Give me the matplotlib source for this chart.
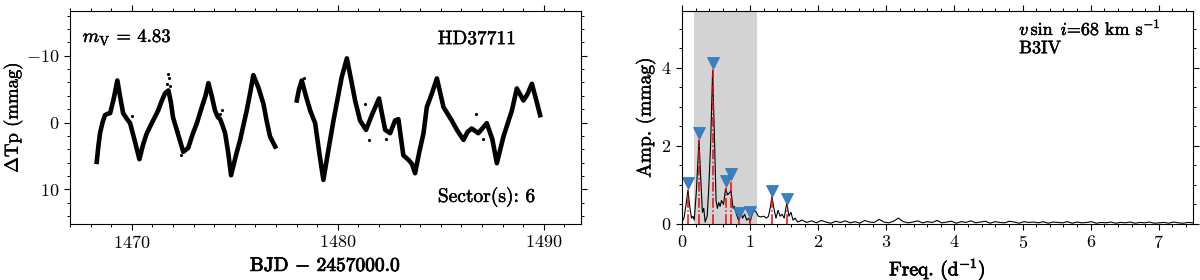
import numpy as np
import matplotlib
matplotlib.use("Agg")
import matplotlib.pyplot as plt
import matplotlib.patheffects as pe
from matplotlib.ticker import MultipleLocator

plt.rcParams['font.family'] = 'serif'
plt.rcParams['font.serif'] = ['cmr10']
plt.rcParams['mathtext.fontset'] = 'cm'
plt.rcParams['axes.formatter.use_mathtext'] = True
plt.rcParams['axes.unicode_minus'] = True

# light curve, two orbits of sector 6
t1 = [1468.30, 1468.38, 1468.46, 1468.58, 1468.70, 1468.82, 1468.95, 1469.12, 1469.30,
      1469.45, 1469.58, 1469.75, 1469.92, 1470.15, 1470.37, 1470.55,
      1470.73, 1470.97, 1471.28, 1471.45, 1471.62, 1471.78, 1471.90, 1472.00,
      1472.25, 1472.50, 1472.74, 1472.95, 1473.16, 1473.40, 1473.58, 1473.72,
      1473.88, 1474.04, 1474.18, 1474.29, 1474.40, 1474.53, 1474.68, 1474.82,
      1475.05, 1475.26, 1475.42, 1475.58, 1475.75, 1475.90, 1476.15, 1476.39,
      1476.55, 1476.71, 1476.96]
m1 = [5.9, 3.5, 1.6, 0.0, -1.1, -1.3, -1.4, -3.5, -6.3,
      -3.6, -1.4, -0.6, 0.1, 2.8, 5.5, 3.3,
      1.6, 0.1, -1.8, -3.2, -4.4, -4.8, -3.0, -0.8,
      1.8, 4.4, 3.8, 1.8, 0.1, -2.3, -4.0, -5.9,
      -4.0, -1.8, -0.8, -0.5, 0.4, 1.6, 4.5, 7.9,
      5.0, 2.6, 0.4, -1.8, -4.5, -7.1, -5.2, -2.8,
      -0.2, 2.1, 3.6]
t2 = [1478.01, 1478.12, 1478.25, 1478.45, 1478.66, 1478.90, 1479.10, 1479.30,
      1479.55, 1479.79, 1480.19, 1480.44, 1480.64,
      1480.84, 1481.08, 1481.37, 1481.65, 1482.00, 1482.15, 1482.30, 1482.54, 1482.78,
      1482.94, 1483.18, 1483.43, 1483.60, 1483.75, 1483.95, 1484.16, 1484.32,
      1484.55, 1484.81, 1485.13, 1485.53, 1485.80, 1486.10, 1486.30, 1486.50,
      1486.82, 1487.23, 1487.50, 1487.72, 1488.04, 1488.45, 1488.69, 1489.01,
      1489.20, 1489.42, 1489.62, 1489.82]
m2 = [-3.3, -5.0, -6.3, -4.0, -1.8, 0.1, 4.5, 8.6,
      4.0, -0.3, -6.8, -9.6, -6.5,
      -3.3, -0.3, 1.1, -1.1, -3.6, -1.2, 1.1, 1.6, -0.3,
      -0.5, 4.9, 5.6, 6.2, 7.6, 4.5, 1.6, -2.3,
      -4.2, -6.6, -2.3, -0.3, 1.2, 2.6, 1.4, 0.9,
      1.6, 0.1, 2.5, 6.1, 2.1, -1.8, -5.1, -3.3,
      -4.2, -5.8, -3.5, -1.1]
# stray points
t_out = [1471.78, 1471.82, 1471.72, 1471.86, 1472.25, 1472.40, 1470.00, 1474.30, 1474.40,
         1474.60, 1478.35, 1481.30, 1481.50, 1482.35, 1486.70, 1487.05]
m_out = [-7.3, -6.6, -5.8, -5.4, 1.4, 4.8, -1.0, -1.2, -1.9,
         4.4, -6.7, -2.8, 2.6, 2.4, -1.2, 2.4]

# amplitude spectrum
f_low = [0.00, 0.03, 0.06, 0.088, 0.11, 0.14, 0.16, 0.18, 0.21, 0.25, 0.28, 0.30,
         0.32, 0.34, 0.37, 0.39, 0.42, 0.45, 0.48, 0.50, 0.52, 0.54, 0.56, 0.58,
         0.61, 0.64, 0.67, 0.70, 0.72, 0.75, 0.77, 0.80, 0.83, 0.86, 0.89, 0.92,
         0.95, 0.98, 1.00, 1.03, 1.06, 1.09, 1.12, 1.16, 1.20, 1.24, 1.27, 1.30,
         1.32, 1.35, 1.38, 1.41, 1.44, 1.47, 1.50, 1.54, 1.57, 1.60, 1.63, 1.66,
         1.70]
a_low = [0.05, 0.15, 0.50, 0.87, 0.50, 0.15, 0.20, 0.10, 0.80, 2.15, 1.00, 0.30,
         0.40, 0.05, 0.20, 0.80, 2.00, 3.94, 2.00, 0.60, 0.40, 0.55, 0.45, 0.60,
         0.50, 0.90, 0.75, 0.80, 0.85, 0.40, 0.45, 0.25, 0.10, 0.30, 0.15, 0.25,
         0.10, 0.15, 0.05, 0.25, 0.35, 0.30, 0.20, 0.18, 0.20, 0.15, 0.20, 0.45,
         0.70, 0.40, 0.15, 0.35, 0.20, 0.25, 0.15, 0.55, 0.20, 0.30, 0.10, 0.15,
         0.05]
a_tail = [0.10, 0.04, 0.08, 0.03, 0.09, 0.05, 0.02, 0.07, 0.04, 0.08, 0.03, 0.06,
          0.02, 0.09, 0.05, 0.04, 0.12, 0.05, 0.03, 0.07, 0.15, 0.06, 0.03, 0.05,
          0.08, 0.03, 0.06, 0.04, 0.09, 0.03, 0.05, 0.07, 0.02, 0.06, 0.04, 0.08,
          0.03, 0.05, 0.07, 0.02, 0.06, 0.04, 0.03, 0.07, 0.05, 0.02, 0.06, 0.04,
          0.05, 0.03, 0.06, 0.02, 0.05, 0.04, 0.03, 0.06, 0.02, 0.05, 0.03, 0.04,
          0.06, 0.02, 0.04, 0.03, 0.05, 0.02, 0.04, 0.03, 0.05, 0.02, 0.04, 0.03,
          0.05, 0.02, 0.03, 0.04, 0.02, 0.05, 0.03, 0.02, 0.04, 0.03]
f_tail = np.linspace(1.76, 7.5, len(a_tail))

# extracted peaks
f_peak = [0.088, 0.25, 0.45, 0.64, 0.72, 0.83, 1.00, 1.32, 1.54]
a_peak = [0.87, 2.15, 3.94, 0.92, 1.10, 0.12, 0.14, 0.68, 0.46]

heavy = [pe.withStroke(linewidth=0.6, foreground='black')]
medium = [pe.withStroke(linewidth=0.35, foreground='black')]

fig = plt.figure(figsize=(12, 2.8), dpi=100)
ax1 = fig.add_axes([0.0583, 0.2, 0.4258, 0.7607])
ax2 = fig.add_axes([0.5683, 0.2, 0.4258, 0.7607])

# left: light curve
ax1.plot(t1, m1, 'k-', lw=3.3, solid_joinstyle='round')
ax1.plot(t2, m2, 'k-', lw=3.3, solid_joinstyle='round')
ax1.plot(t_out, m_out, 'k.', ms=2.5)
ax1.set_xlim(1467.0, 1491.8)
ax1.set_ylim(15.2, -16.7)
ax1.xaxis.set_major_locator(MultipleLocator(10))
ax1.xaxis.set_minor_locator(MultipleLocator(1))
ax1.yaxis.set_major_locator(MultipleLocator(10))
ax1.yaxis.set_minor_locator(MultipleLocator(2))
ax1.set_xlabel(r'BJD $-$ 2457000.0', fontsize=14, path_effects=heavy)
ax1.set_ylabel(r'$\Delta$Tp (mmag)', fontsize=13.5, labelpad=1, path_effects=medium)
ax1.text(0.025, 0.93, r'$m_{\rm V}$ = 4.83', transform=ax1.transAxes, fontsize=13.5, va='top',
         path_effects=medium)
ax1.text(0.72, 0.91, 'HD37711', transform=ax1.transAxes, fontsize=14, va='top', path_effects=medium)
ax1.text(0.72, 0.08, 'Sector(s): 6', transform=ax1.transAxes, fontsize=14, va='bottom',
         path_effects=medium)

# right: amplitude spectrum
ax2.axvspan(0.17, 1.1, color='#d3d3d3', lw=0, zorder=0)
ax2.plot(f_low + list(f_tail), a_low + a_tail, 'k-', lw=0.8)
for f, a in zip(f_peak, a_peak):
    ax2.plot([f, f], [0, a], color='red', ls='-.', lw=1.1)
ax2.plot(f_peak, np.array(a_peak) + 0.17, 'v', color='#3a7fc1', ms=9, mec='#2f6fae', mew=0.5)
ax2.set_xlim(0, 7.5)
ax2.set_ylim(0, 5.45)
ax2.xaxis.set_major_locator(MultipleLocator(1))
ax2.xaxis.set_minor_locator(MultipleLocator(0.2))
ax2.yaxis.set_major_locator(MultipleLocator(2))
ax2.yaxis.set_minor_locator(MultipleLocator(0.5))
ax2.set_xlabel(r'Freq. (d$^{-1}$)', fontsize=14, path_effects=heavy)
ax2.set_ylabel('Amp. (mmag)', fontsize=14, path_effects=medium)
ax2.text(0.66, 0.97, r'$v\,\sin\ i$=68 km s$^{-1}$', transform=ax2.transAxes, fontsize=13, va='top',
         path_effects=medium)
ax2.text(0.66, 0.86, 'B3IV', transform=ax2.transAxes, fontsize=13, va='top', path_effects=medium)

for ax in (ax1, ax2):
    ax.tick_params(which='both', direction='out', top=True, right=True, labelsize=13)
    ax.tick_params(which='major', length=4, width=0.8)
    ax.tick_params(which='minor', length=2.2, width=0.7)

fig.savefig('out.png', dpi=100)
